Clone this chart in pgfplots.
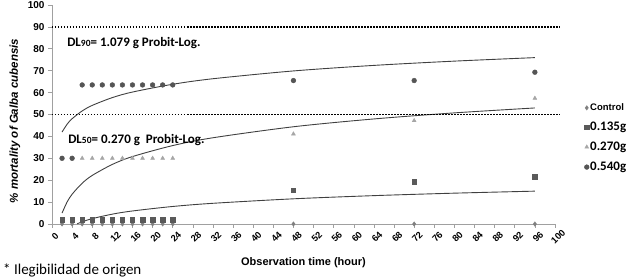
\documentclass[border=0pt]{standalone}
\usepackage{fontspec}
\setmainfont{Liberation Sans}
\newfontfamily\calibri{Carlito}
\usepackage{pgfplots}
\pgfplotsset{compat=1.18}
\definecolor{cdiam}{HTML}{7F7F7F}
\definecolor{csq}{HTML}{5A5A5A}
\definecolor{ctri}{HTML}{A6A6A6}
\definecolor{ccirc}{HTML}{555555}
\definecolor{ctrend}{HTML}{404040}
\definecolor{caxis}{HTML}{A0A0A0}
\begin{document}
\begin{tikzpicture}
\useasboundingbox (-52pt,-56pt) rectangle (581pt,224pt);
\begin{axis}[
  width=503pt, height=219pt, scale only axis,
  xmin=0, xmax=100, ymin=0, ymax=100,
  axis x line*=bottom, axis y line*=left,
  axis line style={draw=caxis, line width=0.8pt},
  xtick={0,4,...,100}, ytick={0,10,...,100},
  tick style={draw=caxis, line width=0.6pt},
  major tick length=4pt,
  tick align=outside,
  /pgf/number format/assume math mode=true,
  ticklabel style={font=\fontsize{10}{12}\selectfont\bfseries},
  xticklabel style={rotate=45, anchor=center, inner sep=0pt, yshift=-8.5pt, xshift=-4pt, font=\fontsize{9.3}{10}\selectfont\bfseries},
  clip=false,
  xlabel={\fontsize{11}{13}\selectfont\bfseries Observation time (hour)},
  xlabel style={at={(axis description cs:0.5,-0.178)}, anchor=center},
  ylabel={\fontsize{11.5}{13}\selectfont\bfseries\itshape \% mortality of Galba cubensis},
  ylabel style={at={(axis description cs:-0.0736,0.47)}, anchor=center},
  legend style={at={(axis cs:105.8,55.5)}, anchor=north west, draw=none, fill=none,
    row sep=8pt, inner sep=0pt, nodes={inner sep=1pt, anchor=west},
    legend image code/.code={\draw[mark repeat=2,mark phase=2,#1] plot coordinates {(0cm,0cm)(0.1cm,0cm)(0.2cm,0cm)};}},
  legend cell align=left,
]
% scatter series
\addplot[only marks, mark=diamond*, mark size=2.2pt, color=cdiam] coordinates {
 (2,0)(4,0)(6,0)(8,0)(10,0)(12,0)(14,0)(16,0)(18,0)(20,0)(22,0)(24,0)(48,0)(72,0)(96,0)};
\addlegendentry{\fontsize{9.5}{11}\selectfont\bfseries Control}
\addplot[only marks, mark=square*, mark size=2.2pt, color=csq] coordinates {
 (2,2)(4,2)(6,2)(8,2)(10,2)(12,2)(14,2)(16,2)(18,2)(20,2)(22,2)(24,2)(48,15.5)(72,19.3)(96,21.6)};
\addlegendentry{\calibri\fontsize{13}{14}\selectfont\bfseries 0.135g}
\addplot[only marks, mark=triangle*, mark size=2.3pt, color=ctri] coordinates {
 (6,30)(8,30)(10,30)(12,30)(14,30)(16,30)(18,30)(20,30)(22,30)(24,30)(48,41.1)(72,47.2)(96,57.4)};
\addlegendentry{\calibri\fontsize{13}{14}\selectfont\bfseries 0.270g}
\addplot[only marks, mark=*, mark size=2.4pt, color=ccirc] coordinates {
 (2,30)(4,30)(6,63.5)(8,63.5)(10,63.5)(12,63.5)(14,63.5)(16,63.5)(18,63.5)(20,63.5)(22,63.5)(24,63.5)(48,65.5)(72,65.5)(96,69.3)};
\addlegendentry{\calibri\fontsize{13}{14}\selectfont\bfseries 0.540g}
% trend lines (logarithmic fits)
\addplot[forget plot, ctrend, line width=0.9pt, smooth] coordinates {
 (2,41.98)(3,45.55)(4,48.07)(6,51.63)(8,54.15)(12,57.72)(16,60.25)(24,63.80)(32,66.33)(48,69.89)(64,72.42)(80,74.37)(96,75.97)};
\addplot[forget plot, ctrend, line width=0.9pt, smooth] coordinates {
 (2,4.99)(3,10.03)(4,13.59)(6,18.62)(8,22.18)(12,27.21)(16,30.79)(24,35.81)(32,39.38)(48,44.40)(64,47.97)(80,50.74)(96,52.99)};
\addplot[forget plot, ctrend, line width=0.9pt, smooth] coordinates {
 (5,0.08)(6,1.0)(8,2.45)(12,4.50)(16,5.95)(24,8.0)(32,9.45)(48,11.50)(64,12.95)(80,14.08)(96,15.0)};
% reference lines
\addplot[forget plot, black, line width=1.7pt, dash pattern=on 1.5pt off 1.5pt] coordinates {(0,90)(100.8,90)};
\addplot[forget plot, black, line width=1.7pt, dash pattern=on 1.5pt off 1.5pt] coordinates {(0,50)(100.8,50)};
% annotations
\node[anchor=west, inner sep=0pt, font=\calibri\bfseries\fontsize{13}{14}\selectfont] at (axis cs:3,82.6) {DL{\fontsize{9.5}{10}\selectfont 90}= 1.079 g Probit-Log.};
\node[anchor=west, inner sep=0pt, font=\calibri\bfseries\fontsize{13}{14}\selectfont] at (axis cs:3.2,38.4) {DL{\fontsize{9.5}{10}\selectfont 50}= 0.270 g\ \ Probit-Log.};
\end{axis}
\node[anchor=west, inner sep=0pt, font=\calibri\fontsize{15}{16}\selectfont] at (-49pt,-46pt) {* Ilegibilidad de origen};
\end{tikzpicture}
\end{document}
